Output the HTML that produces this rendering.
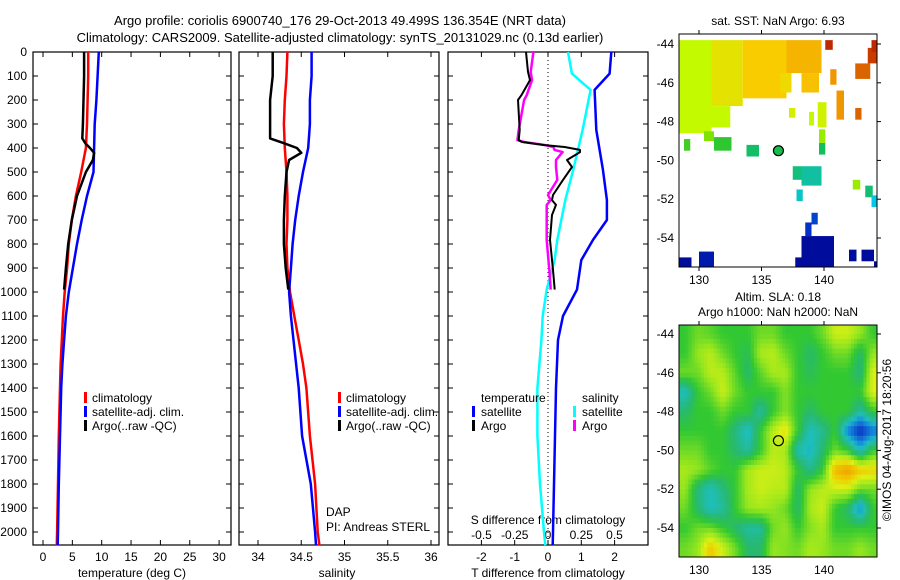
<!DOCTYPE html>
<html><head><meta charset="utf-8"><style>
body{margin:0;background:#fff;}
svg{display:block;font-family:"Liberation Sans",sans-serif;}
</style></head><body>
<svg id="c" width="900" height="580" viewBox="0 0 900 580" xmlns="http://www.w3.org/2000/svg">
<text x="340" y="25" font-size="13" text-anchor="middle">Argo profile: coriolis 6900740_176 29-Oct-2013 49.499S 136.354E (NRT data)</text>
<text x="340" y="42" font-size="13" text-anchor="middle">Climatology: CARS2009. Satellite-adjusted climatology: synTS_20131029.nc (0.13d earlier)</text>
</svg>
<script>
// ---------- data ----------
const depthClimT=[0,100,200,300,400,500,600,700,800,900,1000,1100,1200,1300,1400,1600,1800,2000,2055];
const tempClim=[7.7,7.7,7.6,7.5,7.3,6.5,5.6,4.9,4.4,4.1,3.7,3.4,3.2,3.0,2.9,2.7,2.55,2.4,2.35];
const tempSat=[9.5,9.3,9.1,8.8,8.7,8.6,7.5,6.6,5.8,5.1,4.4,3.9,3.6,3.3,3.1,2.9,2.7,2.55,2.5];
const depthArgo=[0,100,200,300,360,380,400,420,450,500,600,700,800,900,990];
const tempArgo=[7.0,7.0,6.9,6.8,6.7,7.2,8.0,8.7,8.5,7.3,5.8,4.9,4.3,3.9,3.6];
const salClim=[34.34,34.33,34.31,34.3,34.31,34.33,34.34,34.34,34.33,34.34,34.37,34.42,34.47,34.52,34.56,34.6,34.66,34.69,34.71];
const salSat=[34.62,34.62,34.6,34.6,34.58,34.52,34.47,34.43,34.4,34.38,34.36,34.38,34.41,34.44,34.47,34.51,34.61,34.66,34.67];
const salArgo=[34.17,34.17,34.14,34.14,34.14,34.3,34.45,34.5,34.36,34.33,34.31,34.3,34.3,34.32,34.35];
const depthDiffSat=[0,90,158,325,490,617,700,783,867,990,1100,1200,1400,1600,1800,2000,2055];
const tDiffSat=[1.9,1.85,1.4,1.45,1.65,1.77,1.77,1.35,1.0,0.87,0.45,0.3,0.24,0.21,0.18,0.15,0.14];
const sDiffSat=[0.15,0.18,0.32,0.26,0.19,0.13,0.1,0.07,0.05,-0.01,-0.04,-0.05,-0.08,-0.08,-0.06,-0.03,-0.02];
const depthDiffArgo=[0,83,117,180,200,325,367,375,388,396,408,417,450,479,533,596,617,637,679,783,908,990];
const tDiffArgo=[-0.66,-0.6,-0.54,-0.8,-0.9,-0.85,-0.88,-0.78,-0.1,0.5,0.96,0.96,0.57,0.72,0.45,0.15,0.12,0.24,0.12,0.06,0.15,0.2];
const sDiffArgo=[-0.11,-0.13,-0.12,-0.16,-0.18,-0.22,-0.23,-0.18,-0.02,0.04,0.05,0.11,0.06,0.06,0.07,0.0,0.02,-0.01,-0.01,-0.01,0.01,0.02];
const depthTicks=[0,100,200,300,400,500,600,700,800,900,1000,1100,1200,1300,1400,1500,1600,1700,1800,1900,2000];
const tempTicks=[0,5,10,15,20,25,30];
const salTicks=[34,34.5,35,35.5,36];
const salTickLabels=["34","34.5","35","35.5","36"];
const tDiffTicks=[-2,-1,0,1,2];
const sDiffTicks=[-0.5,-0.25,0,0.25,0.5];
const sDiffTickLabels=["-0.5","-0.25","0","0.25","0.5"];
const latTicks=[-44,-46,-48,-50,-52,-54];
const lonTicks=[130,135,140];
const argoLon=136.354, argoLat=-49.499;
// SST patches: lon1,lon2,lat1,lat2,value
const sstCells=[[128.4,131,-43.8,-48.6,9.0],[131,133.5,-43.8,-47.2,9.6],[133.5,137,-43.8,-46.8,10.1],[137,139.8,-43.8,-45.5,10.5],[136.5,137.4,-45.5,-46.5,9.8],[138.2,139.6,-45.5,-46.5,10.3],[131,132.5,-47.2,-48.3,9.0],[128.8,129.3,-48.9,-49.5,7.5],[130.4,131.2,-48.5,-49.0,8.2],[131.2,132.6,-48.8,-49.5,7.3],[133.8,134.8,-49.2,-49.8,6.4],[137.5,138.2,-50.3,-51.0,6.0],[138.2,139.8,-50.3,-51.3,5.3],[139.6,140.1,-49.1,-49.7,6.6],[139.6,140.1,-48.4,-49.1,8.5],[137.8,138.3,-51.5,-52.1,4.6],[142.3,142.9,-51.0,-51.5,8.5],[143.3,143.9,-51.3,-51.9,6.2],[143.8,144.3,-51.8,-52.4,4.0],[138.8,139.2,-47.5,-48.2,9.0],[139.5,140.2,-47.0,-48.3,9.2],[137.2,137.7,-47.3,-47.8,9.3],[141.0,141.6,-46.4,-47.9,11.0],[140.5,141.0,-45.3,-46.1,11.0],[142.5,143.7,-45.0,-45.8,12.0],[143.5,144.3,-44.2,-45.0,13.0],[140.1,140.7,-43.8,-44.3,13.5],[143.8,144.3,-43.8,-44.4,13.5],[142.5,143.0,-47.3,-47.9,12.0],[138.2,140.8,-53.9,-55.5,0.4],[138.5,139.0,-53.2,-53.9,1.5],[139.0,139.5,-52.7,-53.3,1.8],[130.0,131.2,-54.7,-55.5,0.8],[128.4,129.4,-55.0,-55.5,0.4],[137.7,138.3,-55.0,-55.5,0.4],[142.0,142.6,-54.6,-55.2,0.4],[143.0,144.0,-54.6,-55.2,0.4],[144.0,144.3,-55.2,-55.5,0.4]];
// SLA grid (rows from -43.5 southward, 1 deg cells from lon 128.4)
const slaGrid=[
[0,0.3,0.2,0,0,0,0.3,0.3,0,0,0,0.3,0.8,0.8,0.5,0],
[0,0.5,0.7,0.3,0,-0.2,0.6,0.7,0.3,0,-0.3,0,0.3,0.3,-0.3,0.5],
[0.3,0.3,0.7,0.7,0.2,-0.3,0.2,0.6,0.6,0,-0.2,0,0,0,-0.4,0.9],
[-0.8,0,0.3,0.8,0.3,0,0,0,0.4,0,0,0,0,0,0,0.9],
[-0.3,0,0,0.3,0,0,-0.6,0,0.4,0,-0.3,0,0,0,-0.6,0],
[0,0,0,0,-0.4,-0.9,0,0.7,1.1,0,-0.8,-0.5,0,-1.3,-2,-1.4],
[0.3,0.3,0,0,-0.3,-0.6,0,0.7,0.6,-0.7,-0.9,-0.3,0.3,0,-0.8,0],
[0.6,0.5,0.2,0,0,0.6,0.8,0.8,0.7,0,-0.5,0,1.5,1.8,1.3,1.2],
[0.5,-0.4,-0.8,-0.4,0,0.6,0.8,0.7,0.7,-0.3,0.5,0.7,0.8,0.8,0.3,0.3],
[0.3,-0.3,-0.8,-0.6,0,0.5,0.6,0.5,0.3,-0.3,0.6,0.8,0,-0.3,-1.2,0],
[0,0.3,0.3,0,-0.3,-0.6,-0.6,0.3,0.5,0,0.4,0.6,0,0,0,0],
[0.3,0.5,1.3,0.8,0.3,-0.3,-0.3,0.5,0.4,0.3,0.6,0.5,0.3,0.3,0.5,0.3]];

// ---------- helpers ----------
const svg=document.getElementById('c');
const NS='http://www.w3.org/2000/svg';
function mk(tag,attrs,parent){const e=document.createElementNS(NS,tag);for(const k in attrs)e.setAttribute(k,attrs[k]);(parent||svg).appendChild(e);return e;}
const TOP=52,BOT=545;
const yD=d=>TOP+d*0.24;
const P1={l:33,r:231},P2={l:239,r:439},P3={l:448,r:648};
const xT=t=>43+t*5.87;
const xS=s=>258+(s-34)*86.5;
const xTd=t=>548+t*33.3;
const xSd=s=>548+s*133;

function frame(p,name){
  const r=mk('rect',{x:p.l,y:TOP,width:p.r-p.l,height:BOT-TOP,fill:'none',stroke:'#000','stroke-width':1.2});
  
  
  depthTicks.forEach(d=>{
    mk('line',{x1:p.l,x2:p.l+5,y1:yD(d),y2:yD(d),stroke:'#000'});
    mk('line',{x1:p.r-5,x2:p.r,y1:yD(d),y2:yD(d),stroke:'#000'});
  });
}
function xticks(ticks,labels,fx,name){
  ticks.forEach((t,i)=>{
    const x=fx(t);
    mk('line',{x1:x,x2:x,y1:TOP,y2:TOP+5,stroke:'#000'});
    mk('line',{x1:x,x2:x,y1:BOT-5,y2:BOT,stroke:'#000'});
    const tx=mk('text',{x:x,y:561,'font-size':12,'text-anchor':'middle'});
    tx.textContent=labels?labels[i]:String(t);
    
    
  });
}
function line(xs,ds,fx,color,w,name){
  const pts=xs.map((v,i)=>fx(v).toFixed(1)+','+yD(ds[i]).toFixed(1)).join(' ');
  const pl=mk('polyline',{points:pts,fill:'none',stroke:color,'stroke-width':w,'stroke-linejoin':'round'});
  
  
}
function txt(x,y,s,name,opts){
  const t=mk('text',Object.assign({x:x,y:y,'font-size':12},opts||{}));
  t.textContent=s;
  
  
  return t;
}
function legendBar(x,y,color,name){
  const r=mk('rect',{x:x,y:y-10,width:3,height:11,fill:color});
  
  
}

// ---------- panel 1 ----------
frame(P1,'temperature-panel');
depthTicks.forEach(d=>{txt(27,yD(d)+4,String(d),'depth-tick-label',{'text-anchor':'end'});});
xticks(tempTicks,null,xT,'temperature-tick-label');
line(tempClim,depthClimT,xT,'#f00',2.5,'temperature-climatology-line');
line(tempSat,depthClimT,xT,'#00f',2.5,'temperature-satellite-line');
line(tempArgo,depthArgo,xT,'#000',2.5,'temperature-argo-line');
txt(132,577,'temperature (deg C)','temperature-axis-title',{'text-anchor':'middle'});
legendBar(84,402,'#f00','legend-climatology-mark');txt(92,402,'climatology','legend-climatology');
legendBar(84,416,'#00f','legend-satellite-mark');txt(92,416,'satellite-adj. clim.','legend-satellite');
legendBar(84,430,'#000','legend-argo-mark');txt(92,430,'Argo(..raw -QC)','legend-argo');

// ---------- panel 2 ----------
frame(P2,'salinity-panel');
xticks(salTicks,salTickLabels,xS,'salinity-tick-label');
line(salClim,depthClimT,xS,'#f00',2.5,'salinity-climatology-line');
line(salSat,depthClimT,xS,'#00f',2.5,'salinity-satellite-line');
line(salArgo,depthArgo,xS,'#000',2.5,'salinity-argo-line');
txt(337,577,'salinity','salinity-axis-title',{'text-anchor':'middle'});
legendBar(338,402,'#f00','legend2-climatology-mark');txt(346,402,'climatology','legend2-climatology');
legendBar(338,416,'#00f','legend2-satellite-mark');txt(346,416,'satellite-adj. clim.','legend2-satellite');
legendBar(338,430,'#000','legend2-argo-mark');txt(346,430,'Argo(..raw -QC)','legend2-argo');
txt(326,516,'DAP','dap-label');
txt(326,531,'PI: Andreas STERL','pi-label');

// ---------- panel 3 ----------
frame(P3,'difference-panel');
mk('line',{x1:548,x2:548,y1:TOP,y2:BOT,stroke:'#000','stroke-dasharray':'1,3'});
xticks(tDiffTicks,null,xTd,'t-diff-tick-label');
sDiffTicks.forEach((s,i)=>{txt(xSd(s),539,sDiffTickLabels[i],'s-diff-tick-label',{'text-anchor':'middle'});});
txt(548,524,'S difference from climatology','s-diff-axis-title',{'text-anchor':'middle'});
txt(548,577,'T difference from climatology','t-diff-axis-title',{'text-anchor':'middle'});
line(tDiffSat,depthDiffSat,xTd,'#00f',2.5,'t-diff-satellite-line');
line(sDiffSat,depthDiffSat,xSd,'#0ff',2.5,'s-diff-satellite-line');
line(sDiffArgo,depthDiffArgo,xSd,'#f0f',2.5,'s-diff-argo-line');
line(tDiffArgo,depthDiffArgo,xTd,'#000',2,'t-diff-argo-line');
txt(481,402,'temperature','legend3-temperature-header');
legendBar(472,416,'#00f','legend3-t-satellite-mark');txt(481,416,'satellite','legend3-t-satellite');
legendBar(472,430,'#000','legend3-t-argo-mark');txt(481,430,'Argo','legend3-t-argo');
txt(582,402,'salinity','legend3-salinity-header');
legendBar(573,416,'#0ff','legend3-s-satellite-mark');txt(582,416,'satellite','legend3-s-satellite');
legendBar(573,430,'#f0f','legend3-s-argo-mark');txt(582,430,'Argo','legend3-s-argo');

// ---------- maps ----------
const ML=679,MR=877;
const mx=lon=>699+(lon-130)*12.5;
function interp(stops,v){
  if(v<=stops[0][0])return stops[0][1];
  for(let i=1;i<stops.length;i++){if(v<=stops[i][0]){const a=stops[i-1],b=stops[i];const f=(v-a[0])/(b[0]-a[0]);return a[1].map((c,k)=>Math.round(c+(b[1][k]-c)*f));}}
  return stops[stops.length-1][1];
}
const sstStops=[[0,[0,0,140]],[1.5,[0,50,200]],[4,[0,200,230]],[5.5,[20,190,150]],[7,[20,190,70]],[8,[110,220,0]],[9,[195,250,0]],[10,[250,210,0]],[11,[240,150,0]],[12,[220,100,0]],[14,[180,20,0]]];
const slaStops=[[-2,[10,40,190]],[-1.2,[20,140,220]],[-0.8,[30,190,190]],[-0.3,[40,185,110]],[0,[50,200,50]],[0.5,[150,230,30]],[0.9,[220,240,20]],[1.3,[240,200,0]],[2,[240,140,0]]];
const rgb=c=>'rgb('+c.join(',')+')';

// map 1 (SST)
{
  const top=34,bot=267,my=lat=>44+(-44-lat)*19.4;
  const clip=mk('clipPath',{id:'cm1'});mk('rect',{x:ML,y:top,width:MR-ML,height:bot-top},clip);
  const g=mk('g',{'clip-path':'url(#cm1)'});
  
  
  sstCells.forEach(c=>{
    const r=mk('rect',{x:mx(c[0]),y:my(c[2]),width:mx(c[1])-mx(c[0]),height:my(c[3])-my(c[2]),fill:rgb(interp(sstStops,c[4]))},g);
    
    
  });
  const dot=mk('circle',{cx:mx(argoLon),cy:my(argoLat),r:5,fill:rgb(interp(sstStops,6.93)),stroke:'#000','stroke-width':1.2});
  
  
  const fr=mk('rect',{x:ML,y:top,width:MR-ML,height:bot-top,fill:'none',stroke:'#000'});
  
  
  latTicks.forEach(l=>{mk('line',{x1:MR,x2:MR+4,y1:my(l),y2:my(l),stroke:'#000'});txt(674,my(l)+4,String(l),'sst-lat-label',{'text-anchor':'end'});});
  lonTicks.forEach(l=>{mk('line',{x1:mx(l),x2:mx(l),y1:top-4,y2:top,stroke:'#000'});mk('line',{x1:mx(l),x2:mx(l),y1:bot,y2:bot+4,stroke:'#000'});txt(mx(l),284,String(l),'sst-lon-label',{'text-anchor':'middle'});});
  txt(778,25,'sat. SST: NaN Argo: 6.93','sst-map-title',{'text-anchor':'middle'});
}
// map 2 (SLA) - bilinear smoothed rendering of grid
{
  const top=325,bot=557,my=lat=>334+(-44-lat)*19.4;
  const clip=mk('clipPath',{id:'cm2'});mk('rect',{x:ML,y:top,width:MR-ML,height:bot-top},clip);
  const g=mk('g',{'clip-path':'url(#cm2)'});
  
  
  const nR=slaGrid.length,nC=slaGrid[0].length,SUB=4;
  const val=(fr,fc)=>{ // fr,fc in grid-center coordinates
    fr=Math.max(0,Math.min(nR-1,fr));fc=Math.max(0,Math.min(nC-1,fc));
    const r0=Math.floor(fr),c0=Math.floor(fc),r1=Math.min(nR-1,r0+1),c1=Math.min(nC-1,c0+1);
    const a=fr-r0,b=fc-c0;
    return slaGrid[r0][c0]*(1-a)*(1-b)+slaGrid[r0][c1]*(1-a)*b+slaGrid[r1][c0]*a*(1-b)+slaGrid[r1][c1]*a*b;
  };
  for(let i=0;i<nR*SUB;i++)for(let j=0;j<nC*SUB;j++){
    const fr=(i+0.5)/SUB-0.5,fc=(j+0.5)/SUB-0.5;
    const lon=128.4+j/SUB,lat=-43.5-i/SUB;
    const r=mk('rect',{x:mx(lon).toFixed(2),y:my(lat).toFixed(2),width:(12.5/SUB+0.4).toFixed(2),height:(19.4/SUB+0.4).toFixed(2),fill:rgb(interp(slaStops,val(fr,fc)))},g);
    
    
  }
  const dot=mk('circle',{cx:mx(argoLon),cy:my(argoLat),r:5,fill:'none',stroke:'#000','stroke-width':1.2});
  
  
  const fr=mk('rect',{x:ML,y:top,width:MR-ML,height:bot-top,fill:'none',stroke:'#000'});
  
  
  latTicks.forEach(l=>{mk('line',{x1:MR,x2:MR+4,y1:my(l),y2:my(l),stroke:'#000'});txt(674,my(l)+4,String(l),'sla-lat-label',{'text-anchor':'end'});});
  lonTicks.forEach(l=>{mk('line',{x1:mx(l),x2:mx(l),y1:top-4,y2:top,stroke:'#000'});txt(mx(l),574,String(l),'sla-lon-label',{'text-anchor':'middle'});});
  txt(778,301,'Altim. SLA: 0.18','sla-map-title',{'text-anchor':'middle'});
  txt(778,316,'Argo h1000: NaN h2000: NaN','sla-map-subtitle',{'text-anchor':'middle'});
}
const stamp=txt(0,0,'©IMOS 04-Aug-2017 18:20:56','timestamp',{'text-anchor':'middle',transform:'translate(891,440) rotate(-90)'});
</script>
</body></html>
